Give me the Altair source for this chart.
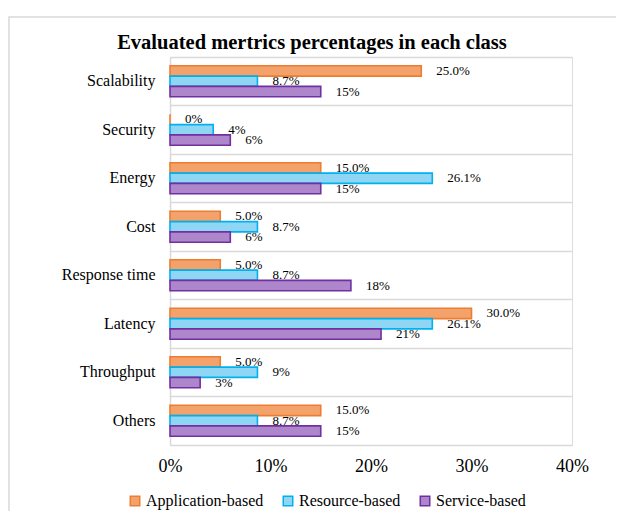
import altair as alt
import pandas as pd

categories = ["Scalability", "Security", "Energy", "Cost", "Response time",
              "Latency", "Throughput", "Others"]
series = ["Application-based", "Resource-based", "Service-based"]

app_vals = [25.0, 0.0, 15.0, 5.0, 5.0, 30.0, 5.0, 15.0]
res_vals = [8.7, 4.3, 26.1, 8.7, 8.7, 26.1, 8.7, 8.7]
serv_vals = [15, 6, 15, 6, 18, 21, 3, 15]

app_lbl = ["25.0%", "0%", "15.0%", "5.0%", "5.0%", "30.0%", "5.0%", "15.0%"]
res_lbl = ["8.7%", "4%", "26.1%", "8.7%", "8.7%", "26.1%", "9%", "8.7%"]
serv_lbl = ["15%", "6%", "15%", "6%", "18%", "21%", "3%", "15%"]

x_ticks = [0, 10, 20, 30, 40]
title_text = "Evaluated mertrics percentages in each class"

rows = []
for s, vals, lbls in zip(series, [app_vals, res_vals, serv_vals], [app_lbl, res_lbl, serv_lbl]):
    for c, v, l in zip(categories, vals, lbls):
        rows.append({"category": c, "series": s, "value": v, "label": l})
df = pd.DataFrame(rows)

FONT = "Liberation Serif"
fill_colors = ["#F2A26A", "#8ED6F4", "#AE86CC"]
stroke_colors = ["#ED7D31", "#00B0F0", "#7030A0"]
GRID = "#D9D9D9"

legend = alt.Legend(
    title=None, orient="none", legendX=-43, legendY=436, direction="horizontal",
    columns=3, symbolType="square", symbolSize=90, symbolStrokeWidth=1.5,
    labelFont=FONT, labelFontSize=16, labelColor="black", labelOffset=3,
    columnPadding=16,
)

base = alt.Chart(df).encode(
    y=alt.Y("category:N", sort=categories,
            scale=alt.Scale(paddingInner=0, paddingOuter=0),
            axis=alt.Axis(title=None, ticks=False, labelPadding=15,
                          labelFont=FONT, labelFontSize=16, labelColor="black",
                          grid=True, gridColor=GRID, gridWidth=1.5, bandPosition=0,
                          domain=True, domainColor=GRID, domainWidth=1.5)),
    yOffset=alt.YOffset("series:N", sort=series,
                        scale=alt.Scale(paddingInner=0, paddingOuter=0.85)),
    x=alt.X("value:Q", scale=alt.Scale(domain=[0, 40], nice=False),
            axis=alt.Axis(title=None, values=x_ticks, labelExpr="datum.value + '%'",
                          grid=False, ticks=False, labelPadding=12, labelFlush=False,
                          labelFont=FONT, labelFontSize=18, labelColor="black",
                          domain=True, domainColor=GRID, domainWidth=1.5)),
)

bars = base.mark_bar(strokeWidth=1.6).encode(
    fill=alt.Fill("series:N", sort=series,
                  scale=alt.Scale(domain=series, range=fill_colors), legend=legend),
    stroke=alt.Stroke("series:N", sort=series,
                      scale=alt.Scale(domain=series, range=stroke_colors), legend=legend),
)

labels = base.mark_text(align="left", baseline="middle", dx=15, font=FONT,
                        fontSize=13, color="black").encode(text="label:N")

one = pd.DataFrame({"t": [title_text]})

frame = alt.Chart(one).mark_rect(
    fill=None, stroke=GRID, strokeWidth=1.5
).encode(x=alt.value(-161), x2=alt.value(470), y=alt.value(-40), y2=alt.value(500))

title = alt.Chart(one).mark_text(
    font=FONT, fontSize=20.5, fontWeight="bold", color="black",
    align="center", baseline="alphabetic"
).encode(text="t:N", x=alt.value(142), y=alt.value(-8))

chart = alt.layer(frame, bars, labels, title).properties(
    width=402, height=388,
    autosize=alt.AutoSizeParams(type="none"),
    padding={"left": 162, "top": 49, "right": 44, "bottom": 66},
).configure_view(stroke=None).configure(background="white")

chart.save("out.html", embed_options={"renderer": "svg", "actions": False})
